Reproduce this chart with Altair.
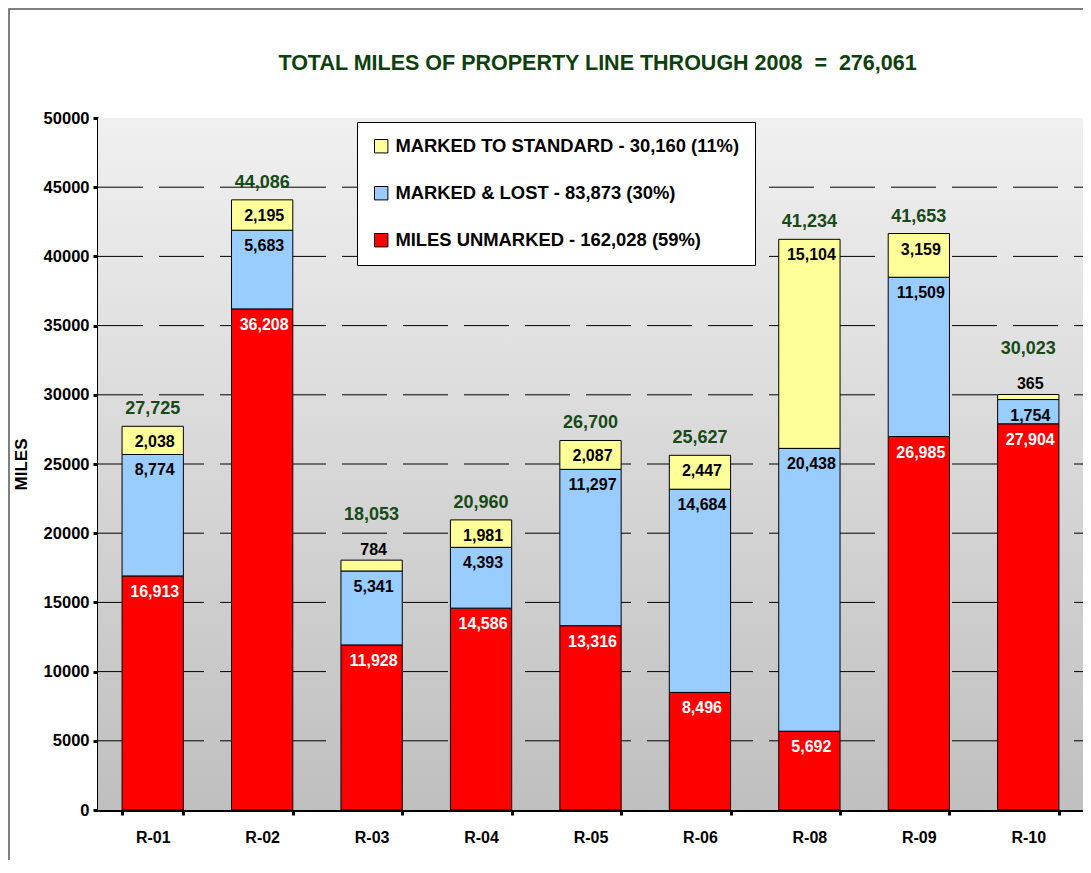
import altair as alt
import pandas as pd

categories = ["R-01", "R-02", "R-03", "R-04", "R-05", "R-06", "R-08", "R-09", "R-10"]
unmarked = [16913, 36208, 11928, 14586, 13316, 8496, 5692, 26985, 27904]
lost = [8774, 5683, 5341, 4393, 11297, 14684, 20438, 11509, 1754]
standard = [2038, 2195, 784, 1981, 2087, 2447, 15104, 3159, 365]
totals = [27725, 44086, 18053, 20960, 26700, 25627, 41234, 41653, 30023]
legend_labels = [
    "MARKED TO STANDARD - 30,160 (11%)",
    "MARKED & LOST - 83,873 (30%)",
    "MILES UNMARKED - 162,028 (59%)",
]
series_colors = ["#ffff99", "#99ccff", "#ff0000"]
y_ticks = [0, 5000, 10000, 15000, 20000, 25000, 30000, 35000, 40000, 45000, 50000]
grid_values = [5000, 10000, 15000, 20000, 25000, 30000, 35000, 40000, 45000]
title_text = "TOTAL MILES OF PROPERTY LINE THROUGH 2008\u00a0\u00a0=\u00a0\u00a0276,061"

FONT = "Liberation Sans, Arial, sans-serif"
W, H = 985, 692

rows = []
for i, c in enumerate(categories):
    s0 = 0
    for name, vals, kind in [(legend_labels[2], unmarked, "red"),
                             (legend_labels[1], lost, "blue"),
                             (legend_labels[0], standard, "yellow")]:
        v = vals[i]
        rows.append(dict(cat=c, series=name, value=v, start=s0, end=s0 + v,
                         text=f"{v:,}", kind=kind, small=bool(v < 1000)))
        s0 += v
seg = pd.DataFrame(rows)
tot = pd.DataFrame(dict(cat=categories, total=totals,
                        text=[f"{t:,}" for t in totals],
                        small=[bool(s < 1000) for s in standard]))
grid = pd.DataFrame(dict(v=grid_values))
one = pd.DataFrame(dict(a=[0]))

x_axis = alt.Axis(title=None, labelAngle=0, labelFont=FONT, labelFontSize=16,
                  labelFontWeight="bold", labelColor="black", domainColor="black",
                  domainWidth=3, tickColor="black", tickWidth=3, tickSize=5,
                  tickBand="extent", labelPadding=14)
y_axis = alt.Axis(values=y_ticks, format="d", labelFont=FONT, labelFontSize=16.5,
                  labelFontWeight="bold", labelColor="black", domainColor="black",
                  domainWidth=3, tickColor="black", tickWidth=3, tickSize=5,
                  labelPadding=4, grid=False, title="MILES", titleFont=FONT,
                  titleFontSize=17, titleFontWeight="bold", titleColor="black",
                  titlePadding=13)
x_scale = alt.Scale(domain=categories, paddingInner=0.44, paddingOuter=0.22)
y_scale = alt.Scale(domain=[0, 50000], nice=False)

def X():
    return alt.X("cat:N", sort=categories, scale=x_scale, axis=x_axis)

def Y(field):
    return alt.Y(field, scale=y_scale, axis=y_axis)

frame = alt.Chart(one).mark_rect(fill="transparent", stroke="#555555", strokeWidth=1.5).encode(
    x=alt.value(-89), x2=alt.value(W + 30), y=alt.value(-109), y2=alt.value(H + 120))

bg = alt.Chart(one).mark_rect(
    color=alt.Gradient(gradient="linear", x1=0, x2=0, y1=0, y2=1,
                       stops=[alt.GradientStop(color="#f0f0f0", offset=0),
                              alt.GradientStop(color="#bfbfbf", offset=1)])
).encode(x=alt.value(0), x2=alt.value(W), y=alt.value(0), y2=alt.value(H))

rules = alt.Chart(grid).mark_rule(color="black", strokeWidth=1, strokeDash=[45, 16]).encode(
    y=Y("v:Q"), x=alt.value(0), x2=alt.value(W))

bars = alt.Chart(seg).mark_bar(stroke="black", strokeWidth=1).encode(
    x=X(), y=Y("end:Q"), y2="start:Q",
    color=alt.Color("series:N",
                    scale=alt.Scale(domain=legend_labels, range=series_colors),
                    legend=alt.Legend(title=None, orient="none", legendX=259, legendY=4,
                                      fillColor="white", strokeColor="black", padding=15,
                                      rowPadding=28, symbolType="square", symbolSize=180,
                                      symbolStrokeColor="black", symbolStrokeWidth=1,
                                      symbolOpacity=1, labelFont=FONT, labelFontSize=18.4,
                                      labelFontWeight="bold", labelColor="black",
                                      labelLimit=0, labelOffset=5)),
)

lab_in_red = alt.Chart(seg).transform_filter("datum.kind == 'red' && !datum.small").mark_text(
    font=FONT, fontSize=16, fontWeight="bold", color="white", baseline="top", dy=8, dx=2
).encode(x=X(), y=Y("end:Q"), text="text:N")

lab_in_other = alt.Chart(seg).transform_filter("datum.kind != 'red' && !datum.small").mark_text(
    font=FONT, fontSize=16, fontWeight="bold", color="black", baseline="top", dy=8, dx=2
).encode(x=X(), y=Y("end:Q"), text="text:N")

lab_small = alt.Chart(seg).transform_filter("datum.small").mark_text(
    font=FONT, fontSize=16, fontWeight="bold", color="black", baseline="bottom", dy=-2, dx=2
).encode(x=X(), y=Y("end:Q"), text="text:N")

tot_norm = alt.Chart(tot).transform_filter("!datum.small").mark_text(
    font=FONT, fontSize=18, fontWeight="bold", color="#174a17", baseline="bottom", dy=-8
).encode(x=X(), y=Y("total:Q"), text="text:N")

tot_up = alt.Chart(tot).transform_filter("datum.small").mark_text(
    font=FONT, fontSize=18, fontWeight="bold", color="#174a17", baseline="bottom", dy=-36
).encode(x=X(), y=Y("total:Q"), text="text:N")

chart = alt.layer(
    frame, bg, rules, bars, lab_in_red, lab_in_other, lab_small, tot_norm, tot_up
).properties(
    width=W, height=H,
    title=alt.TitleParams(text=title_text, font=FONT, fontSize=21.5, fontWeight="bold",
                          color="#0d400d", anchor="middle", offset=-83,
                          baseline="alphabetic", dx=7),
    autosize=alt.AutoSizeParams(type="none"),
    padding={"left": 90, "top": 110, "right": 0, "bottom": 50},
).configure_view(stroke="#808080", strokeWidth=1).configure(background="white")

chart.save("out.html", embed_options={"renderer": "svg", "actions": False})
